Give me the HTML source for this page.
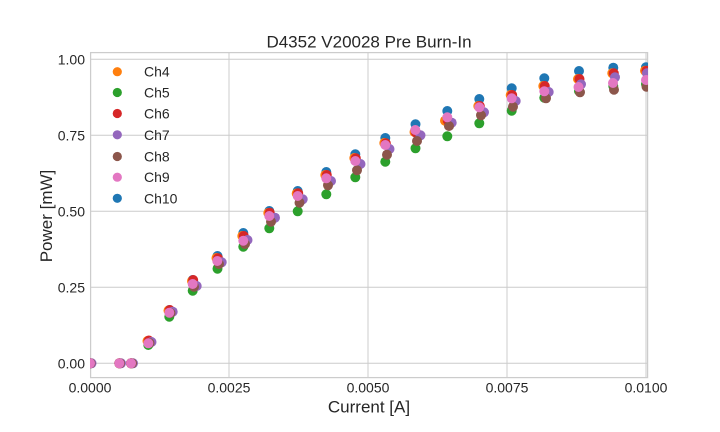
<!DOCTYPE html>
<html>
<head>
<meta charset="utf-8">
<style>
html,body{margin:0;padding:0;background:#fff;}
svg{display:block;}
text{font-family:"Liberation Sans",Arial,sans-serif;fill:#262626;}
</style>
</head>
<body>
<svg width="720" height="432" viewBox="0 0 720 432" xmlns="http://www.w3.org/2000/svg">
<defs>
<clipPath id="pa"><rect x="90" y="52.5" width="558" height="325"/></clipPath>
</defs>
<rect x="0" y="0" width="720" height="432" fill="#fff"/>
<!-- grid -->
<g stroke="#cccccc" stroke-width="1" fill="none">
<line x1="90" y1="363.3" x2="648" y2="363.3"/>
<line x1="90" y1="287.3" x2="648" y2="287.3"/>
<line x1="90" y1="211.3" x2="648" y2="211.3"/>
<line x1="90" y1="135.3" x2="648" y2="135.3"/>
<line x1="90" y1="59.3" x2="648" y2="59.3"/>
<line x1="229" y1="52.5" x2="229" y2="377.5"/>
<line x1="368" y1="52.5" x2="368" y2="377.5"/>
<line x1="507" y1="52.5" x2="507" y2="377.5"/>
<line x1="646" y1="52.5" x2="646" y2="377.5"/>
</g>
<rect x="90.6" y="52.6" width="557" height="325" fill="none" stroke="#cccccc" stroke-width="1.25"/>

<g clip-path="url(#pa)">
<!-- Ch10 blue -->
<g fill="#1f77b4">
<circle cx="90" cy="363.3" r="5"/><circle cx="119.3" cy="363.3" r="5"/><circle cx="131" cy="363.3" r="5"/>
<circle cx="148.3" cy="341" r="5"/><circle cx="169.3" cy="310" r="5"/><circle cx="192.7" cy="280" r="5"/>
<circle cx="217.5" cy="256" r="5"/><circle cx="243.3" cy="233" r="5"/><circle cx="269.3" cy="211" r="5"/>
<circle cx="297.7" cy="191" r="5"/><circle cx="326.3" cy="172" r="5"/><circle cx="355.3" cy="154.3" r="5"/>
<circle cx="385.3" cy="138" r="5"/><circle cx="415.5" cy="124.3" r="5"/><circle cx="447.3" cy="111" r="5"/>
<circle cx="479.3" cy="99" r="5"/><circle cx="511.7" cy="88.3" r="5"/><circle cx="544.3" cy="78.3" r="5"/>
<circle cx="579" cy="71" r="5"/><circle cx="613.3" cy="67.7" r="5"/><circle cx="646" cy="67.3" r="5"/>
</g>
<!-- Ch4 orange -->
<g fill="#ff7f0e">
<circle cx="90" cy="363.3" r="5"/><circle cx="119.3" cy="363.3" r="5"/><circle cx="131" cy="363.3" r="5"/>
<circle cx="147.5" cy="341" r="5"/><circle cx="168.5" cy="310.5" r="5"/><circle cx="192" cy="281" r="5"/>
<circle cx="216.5" cy="258" r="5"/><circle cx="242.3" cy="236" r="5"/><circle cx="268.3" cy="213" r="5"/>
<circle cx="296.7" cy="193.5" r="5"/><circle cx="325.3" cy="175" r="5"/><circle cx="354.3" cy="158" r="5"/>
<circle cx="384.3" cy="143" r="5"/><circle cx="414.5" cy="132" r="5"/><circle cx="445" cy="120.7" r="5"/>
<circle cx="478.3" cy="106" r="5"/><circle cx="510.7" cy="95" r="5"/><circle cx="543.3" cy="86" r="5"/>
<circle cx="578" cy="79" r="5"/><circle cx="612.3" cy="73.3" r="5"/><circle cx="645" cy="70.7" r="5"/>
</g>
<!-- Ch5 green -->
<g fill="#2ca02c">
<circle cx="90" cy="363.3" r="5"/><circle cx="119.3" cy="363.3" r="5"/><circle cx="131" cy="363.3" r="5"/>
<circle cx="148.3" cy="345" r="5"/><circle cx="169.3" cy="316.7" r="5"/><circle cx="192.7" cy="290.7" r="5"/>
<circle cx="217.5" cy="268.7" r="5"/><circle cx="243.3" cy="246.7" r="5"/><circle cx="269.3" cy="228.3" r="5"/>
<circle cx="297.7" cy="211.3" r="5"/><circle cx="326.3" cy="194.3" r="5"/><circle cx="355.3" cy="177.3" r="5"/>
<circle cx="385.3" cy="161.7" r="5"/><circle cx="415.5" cy="148.3" r="5"/><circle cx="447.3" cy="136.3" r="5"/>
<circle cx="479.3" cy="123.3" r="5"/><circle cx="511.7" cy="110.7" r="5"/><circle cx="544.3" cy="97.7" r="5"/>
<circle cx="579" cy="91" r="5"/><circle cx="613.3" cy="86" r="5"/><circle cx="646" cy="84" r="5"/>
</g>
<!-- Ch6 red -->
<g fill="#d62728">
<circle cx="90" cy="363.3" r="5"/><circle cx="119.3" cy="363.3" r="5"/><circle cx="131" cy="363.3" r="5"/>
<circle cx="148.8" cy="340.5" r="5"/><circle cx="169.8" cy="310" r="5"/><circle cx="193.2" cy="280" r="5"/>
<circle cx="218" cy="258.3" r="5"/><circle cx="243.8" cy="236" r="5"/><circle cx="269.8" cy="212.7" r="5"/>
<circle cx="298.2" cy="193.3" r="5"/><circle cx="326.8" cy="175" r="5"/><circle cx="355.8" cy="158.3" r="5"/>
<circle cx="385.8" cy="143.3" r="5"/><circle cx="416" cy="132.7" r="5"/><circle cx="447.8" cy="120.7" r="5"/>
<circle cx="479.8" cy="106" r="5"/><circle cx="512.2" cy="95" r="5"/><circle cx="544.8" cy="86" r="5"/>
<circle cx="579.5" cy="79" r="5"/><circle cx="613.8" cy="73.3" r="5"/><circle cx="646.5" cy="70.7" r="5"/>
</g>
<!-- Ch7 purple -->
<g fill="#9467bd">
<circle cx="91.5" cy="363.3" r="5"/><circle cx="121" cy="363.3" r="5"/><circle cx="133" cy="363.3" r="5"/>
<circle cx="151.5" cy="342" r="5"/><circle cx="172.7" cy="311.7" r="5"/><circle cx="196.7" cy="286" r="5"/>
<circle cx="221.7" cy="262.3" r="5"/><circle cx="247.5" cy="240" r="5"/><circle cx="275" cy="217.7" r="5"/>
<circle cx="302.7" cy="199.3" r="5"/><circle cx="331" cy="181" r="5"/><circle cx="360.5" cy="164" r="5"/>
<circle cx="389.5" cy="149" r="5"/><circle cx="420.5" cy="135.3" r="5"/><circle cx="451.7" cy="122.7" r="5"/>
<circle cx="484" cy="112.3" r="5"/><circle cx="515.7" cy="101" r="5"/><circle cx="548.7" cy="92" r="5"/>
<circle cx="581" cy="84.3" r="5"/><circle cx="615" cy="77.3" r="5"/><circle cx="647" cy="73.3" r="5"/>
</g>
<!-- Ch8 brown -->
<g fill="#8c564b">
<circle cx="90.5" cy="363.3" r="5"/><circle cx="120" cy="363.3" r="5"/><circle cx="132" cy="363.3" r="5"/>
<circle cx="149.5" cy="343" r="5"/><circle cx="170.5" cy="313" r="5"/><circle cx="194" cy="286.7" r="5"/>
<circle cx="219" cy="264" r="5"/><circle cx="245" cy="244" r="5"/><circle cx="271" cy="221.7" r="5"/>
<circle cx="299.5" cy="202.7" r="5"/><circle cx="328" cy="185.3" r="5"/><circle cx="357" cy="170.3" r="5"/>
<circle cx="387" cy="154.7" r="5"/><circle cx="417" cy="141" r="5"/><circle cx="449" cy="126" r="5"/>
<circle cx="481" cy="115.3" r="5"/><circle cx="513" cy="106.7" r="5"/><circle cx="546" cy="98.3" r="5"/>
<circle cx="580" cy="92.3" r="5"/><circle cx="614" cy="89.7" r="5"/><circle cx="646.5" cy="86.7" r="5"/>
</g>
<!-- Ch9 pink -->
<g fill="#e377c2">
<circle cx="90" cy="363.3" r="5"/><circle cx="119.3" cy="363.3" r="5"/><circle cx="131" cy="363.3" r="5"/>
<circle cx="148.3" cy="343.3" r="5"/><circle cx="169.3" cy="312.7" r="5"/><circle cx="192.7" cy="284" r="5"/>
<circle cx="217.3" cy="261" r="5"/><circle cx="243.3" cy="240.7" r="5"/><circle cx="269.3" cy="216" r="5"/>
<circle cx="297.7" cy="196" r="5"/><circle cx="326.3" cy="178.3" r="5"/><circle cx="355.3" cy="161" r="5"/>
<circle cx="385.3" cy="145" r="5"/><circle cx="415.3" cy="130" r="5"/><circle cx="447.3" cy="117.3" r="5"/>
<circle cx="479.3" cy="107.3" r="5"/><circle cx="511.7" cy="98.3" r="5"/><circle cx="544.3" cy="91.3" r="5"/>
<circle cx="578.5" cy="87" r="5"/><circle cx="613" cy="83" r="5"/><circle cx="646" cy="80" r="5"/>
</g>
</g>

<!-- legend -->
<g>
<circle cx="117.3" cy="71.7" r="4.6" fill="#ff7f0e"/>
<circle cx="117.3" cy="92.5" r="4.6" fill="#2ca02c"/>
<circle cx="117.3" cy="113.5" r="4.6" fill="#d62728"/>
<circle cx="117.3" cy="134.8" r="4.6" fill="#9467bd"/>
<circle cx="117.3" cy="156.5" r="4.6" fill="#8c564b"/>
<circle cx="117.3" cy="177.2" r="4.6" fill="#e377c2"/>
<circle cx="117.3" cy="198.3" r="4.6" fill="#1f77b4"/>
</g>
<g font-size="14">
<text x="144" y="76.7">Ch4</text>
<text x="144" y="97.5">Ch5</text>
<text x="144" y="118.5">Ch6</text>
<text x="144" y="139.8">Ch7</text>
<text x="144" y="161.5">Ch8</text>
<text x="144" y="182.2">Ch9</text>
<text x="144" y="203.3">Ch10</text>
</g>

<!-- y tick labels -->
<g font-size="14" text-anchor="end">
<text x="85" y="368.3">0.00</text>
<text x="85" y="292.3">0.25</text>
<text x="85" y="216.3">0.50</text>
<text x="85" y="140.3">0.75</text>
<text x="85" y="64.3">1.00</text>
</g>
<!-- x tick labels -->
<g font-size="14" text-anchor="middle">
<text x="90" y="392.3">0.0000</text>
<text x="229" y="392.3">0.0025</text>
<text x="368" y="392.3">0.0050</text>
<text x="507" y="392.3">0.0075</text>
<text x="646" y="392.3">0.0100</text>
</g>

<text x="369" y="47.3" font-size="17" text-anchor="middle">D4352 V20028 Pre Burn-In</text>
<text x="369" y="412.3" font-size="17" text-anchor="middle">Current [A]</text>
<text transform="translate(52,216) rotate(-90)" font-size="17" text-anchor="middle">Power [mW]</text>
</svg>
</body>
</html>
